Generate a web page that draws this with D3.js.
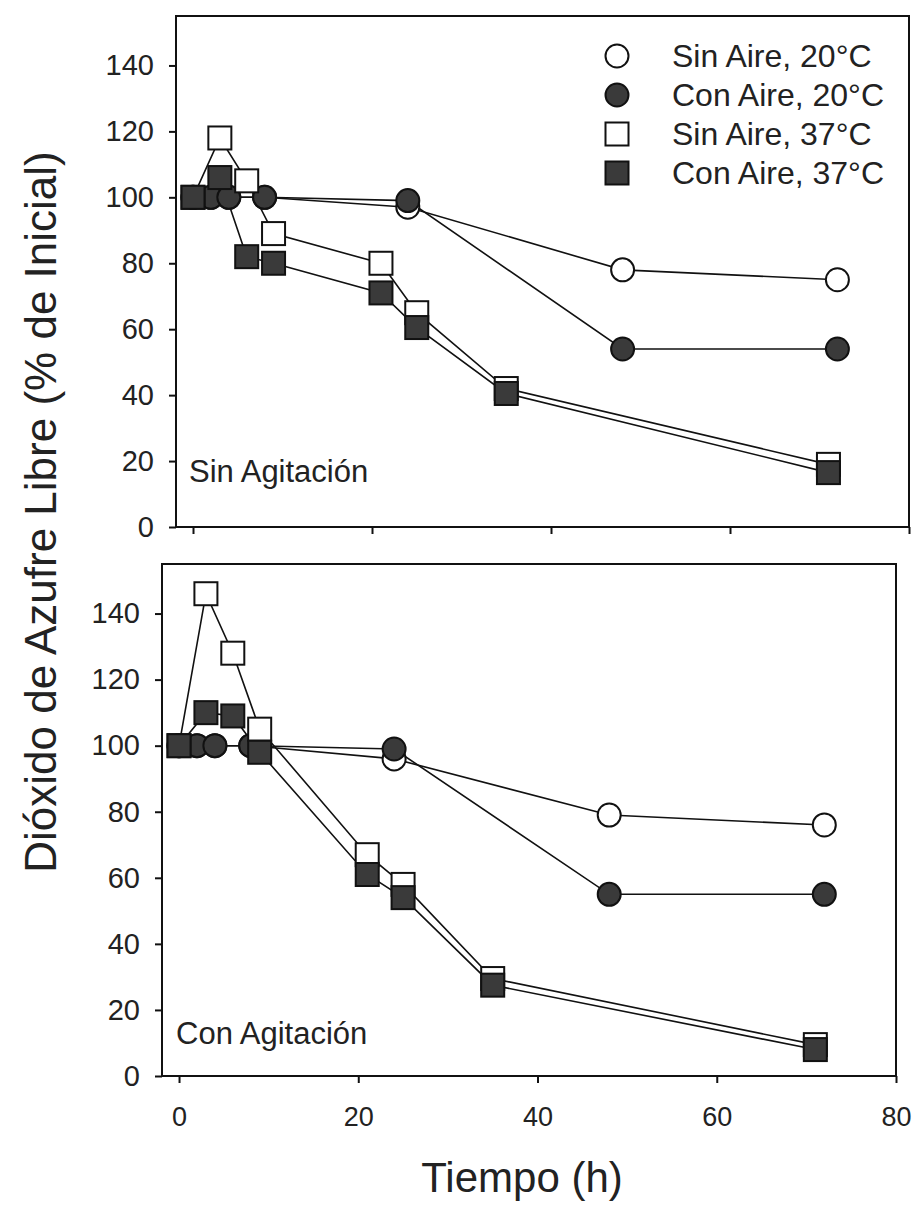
<!DOCTYPE html>
<html>
<head>
<meta charset="utf-8">
<script src="https://cdnjs.cloudflare.com/ajax/libs/d3/7.8.5/d3.min.js"></script>
<style>
  body { margin: 0; background: #fff; }
  svg text { font-family: "Liberation Sans", Arial, sans-serif; fill: #222; }
</style>
</head>
<body>
<div class="canvas"></div>
<script>
// sampling times (h)
const times20 = [0, 2, 4, 8, 24, 48, 72];
const times37 = [0, 3, 6, 9, 21, 25, 35, 71];

// Sin Agitación, free SO2 as % of initial
const sinAgitSinAire20 = [100, 100, 100, 100, 97, 78, 75];
const sinAgitConAire20 = [100, 100, 100, 100, 99, 54, 54];
const sinAgitSinAire37 = [100, 118, 105, 89, 80, 65, 42, 19];
const sinAgitConAire37 = [100, 106, 82, 80, 71, 60.5, 40.5, 16.5];

// Con Agitación
const conAgitSinAire20 = [100, 100, 100, 100, 96, 79, 76];
const conAgitConAire20 = [100, 100, 100, 100, 99, 55, 55];
const conAgitSinAire37 = [100, 146, 128, 105, 67, 58, 29.5, 9.5];
const conAgitConAire37 = [100, 110, 109, 98, 61, 54, 27.5, 8];

const seriesNames = ["Sin Aire, 20°C", "Con Aire, 20°C", "Sin Aire, 37°C", "Con Aire, 37°C"];
const panelNames = ["Sin Agitación", "Con Agitación"];
const xTicks = [0, 20, 40, 60, 80];
const yTicks = [0, 20, 40, 60, 80, 100, 120, 140];

// marker look per series (same order as seriesNames)
const markers = [
  { shape: "circle", fill: "#fff" },
  { shape: "circle", fill: "#3a3a3a" },
  { shape: "square", fill: "#fff" },
  { shape: "square", fill: "#3a3a3a" },
];

const zip = (ts, vs) => ts.map((t, i) => ({ t, v: vs[i] }));

const panels = [
  {
    name: panelNames[0],
    series: [
      zip(times20, sinAgitSinAire20),
      zip(times20, sinAgitConAire20),
      zip(times37, sinAgitSinAire37),
      zip(times37, sinAgitConAire37),
    ],
    box: { left: 176, right: 909, top: 16, bottom: 527 },
    label: { x: 189, y: 482 },
    xLabels: false,
    legend: true,
  },
  {
    name: panelNames[1],
    series: [
      zip(times20, conAgitSinAire20),
      zip(times20, conAgitConAire20),
      zip(times37, conAgitSinAire37),
      zip(times37, conAgitConAire37),
    ],
    box: { left: 162, right: 896, top: 564, bottom: 1076 },
    label: { x: 176, y: 1044 },
    xLabels: true,
    legend: false,
  },
];

const svg = d3
  .select(".canvas")
  .append("svg")
  .attr("width", 914)
  .attr("height", 1206);

svg.append("rect").attr("width", 914).attr("height", 1206).attr("fill", "#fff");

const markerSize = 23;

const drawMarker = (sel, m) => {
  if (m.shape === "circle") {
    sel
      .append("circle")
      .attr("r", markerSize / 2)
      .attr("fill", m.fill)
      .attr("stroke", "#111")
      .attr("stroke-width", 2);
  } else {
    sel
      .append("rect")
      .attr("x", -markerSize / 2)
      .attr("y", -markerSize / 2)
      .attr("width", markerSize)
      .attr("height", markerSize)
      .attr("fill", m.fill)
      .attr("stroke", "#111")
      .attr("stroke-width", 2);
  }
};

panels.forEach((p) => {
  const b = p.box;
  const x = d3.scaleLinear().domain([-1.9, 80]).range([b.left, b.right]);
  const y = d3.scaleLinear().domain([0, 155]).range([b.bottom, b.top]);

  const g = svg.append("g");

  // frame
  g.append("rect")
    .attr("x", b.left)
    .attr("y", b.top)
    .attr("width", b.right - b.left)
    .attr("height", b.bottom - b.top)
    .attr("fill", "none")
    .attr("stroke", "#111")
    .attr("stroke-width", 2);

  // y axis
  const yAxis = g
    .append("g")
    .attr("transform", `translate(${b.left},0)`)
    .call(d3.axisLeft(y).tickValues(yTicks).tickSize(7).tickPadding(15));

  // x axis
  const xAxis = g
    .append("g")
    .attr("transform", `translate(0,${b.bottom})`)
    .call(
      d3
        .axisBottom(x)
        .tickValues(xTicks)
        .tickSize(7)
        .tickPadding(24)
        .tickFormat(p.xLabels ? d3.format("d") : "")
    );

  [yAxis, xAxis].forEach((ax) => {
    ax.select(".domain").remove();
    ax.selectAll(".tick line").attr("stroke", "#111").attr("stroke-width", 2);
  });
  yAxis.selectAll("text").attr("font-size", 29).attr("fill", "#222");
  xAxis.selectAll("text").attr("font-size", 27).attr("fill", "#222");

  const line = d3
    .line()
    .x((d) => x(d.t))
    .y((d) => y(d.v));

  // lines first, markers on top
  p.series.forEach((s) => {
    g.append("path")
      .datum(s)
      .attr("d", line)
      .attr("fill", "none")
      .attr("stroke", "#111")
      .attr("stroke-width", 1.6);
  });

  p.series.forEach((s, i) => {
    g.selectAll(null)
      .data(s)
      .enter()
      .append("g")
      .attr("transform", (d) => `translate(${x(d.t)},${y(d.v)})`)
      .each(function () {
        drawMarker(d3.select(this), markers[i]);
      });
  });

  // panel label
  g.append("text")
    .attr("x", p.label.x)
    .attr("y", p.label.y)
    .attr("font-size", 31)
    .text(p.name);

  // legend
  if (p.legend) {
    seriesNames.forEach((name, i) => {
      const ly = 56 + i * 39;
      const lg = svg.append("g").attr("transform", `translate(617,${ly})`);
      drawMarker(lg, markers[i]);
      lg.append("text")
        .attr("x", 55)
        .attr("y", 11)
        .attr("font-size", 32)
        .text(name);
    });
  }
});

// axis titles
svg
  .append("text")
  .attr("transform", "translate(56,512) rotate(-90)")
  .attr("text-anchor", "middle")
  .attr("font-size", 44)
  .text("Dióxido de Azufre Libre (% de Inicial)");

svg
  .append("text")
  .attr("x", 522)
  .attr("y", 1192)
  .attr("text-anchor", "middle")
  .attr("font-size", 42)
  .text("Tiempo (h)");
</script>
</body>
</html>
